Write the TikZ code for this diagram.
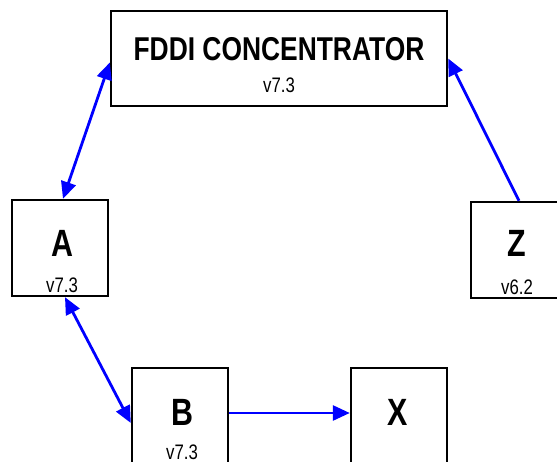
\documentclass[tikz,border=0pt]{standalone}
\usepackage{fontspec}
\setmainfont[FakeStretch=0.8]{Liberation Sans}
\usetikzlibrary{arrows.meta}
\begin{document}
\begin{tikzpicture}[x=1pt,y=-1pt,
  box/.style={draw=black,line width=2.4pt,fill=white,inner sep=0pt},
  title/.style={font=\fontsize{38}{38}\selectfont\bfseries,inner sep=0pt},
  ftitle/.style={font=\fontsize{33}{33}\selectfont\bfseries,inner sep=0pt},
  ver/.style={font=\fontsize{21}{21}\selectfont,inner sep=0pt},
  tip/.style={},
  link/.style={draw=blue,line width=2.8pt,{Triangle[length=17pt,width=15pt]}-{Triangle[length=17pt,width=15pt]}},
  onelink/.style={draw=blue,line width=2.8pt,-{Triangle[length=17pt,width=15pt]}}]
\useasboundingbox (0,0) rectangle (557,461);
\node[box,minimum width=336pt,minimum height=95pt] (F) at (279,58.5) {};
\node[ftitle] (Ft) at (279,49) {FDDI CONCENTRATOR};
\node[ver] (Fv) at (279,85) {v7.3};
\node[box,minimum width=96pt,minimum height=96pt] (A) at (60,248) {};
\node[title] (At) at (62,243) {A};
\node[ver] (Av) at (62,285) {v7.3};
\node[box,minimum width=96pt,minimum height=96pt] (Z) at (519,250) {};
\node[title] (Zt) at (517,243) {Z};
\node[ver] (Zv) at (517,287) {v6.2};
\node[box,minimum width=96pt,minimum height=96pt] (B) at (180,416) {};
\node[title] (Bt) at (182,412) {B};
\node[ver] (Bv) at (182,452) {v7.3};
\node[box,minimum width=96pt,minimum height=96pt] (X) at (399,416) {};
\node[title] (Xt) at (398,412) {X};
\draw[link] ([xshift=3pt]A.north) -- ([yshift=-4pt]F.west);
\draw[onelink] (Z.north) -- (F.east);
\draw[link] ([xshift=5pt]A.south) -- ([yshift=-7pt]B.west);
\draw[onelink] ([yshift=3pt]B.east) -- ([yshift=3pt]X.west);
\end{tikzpicture}
\end{document}
